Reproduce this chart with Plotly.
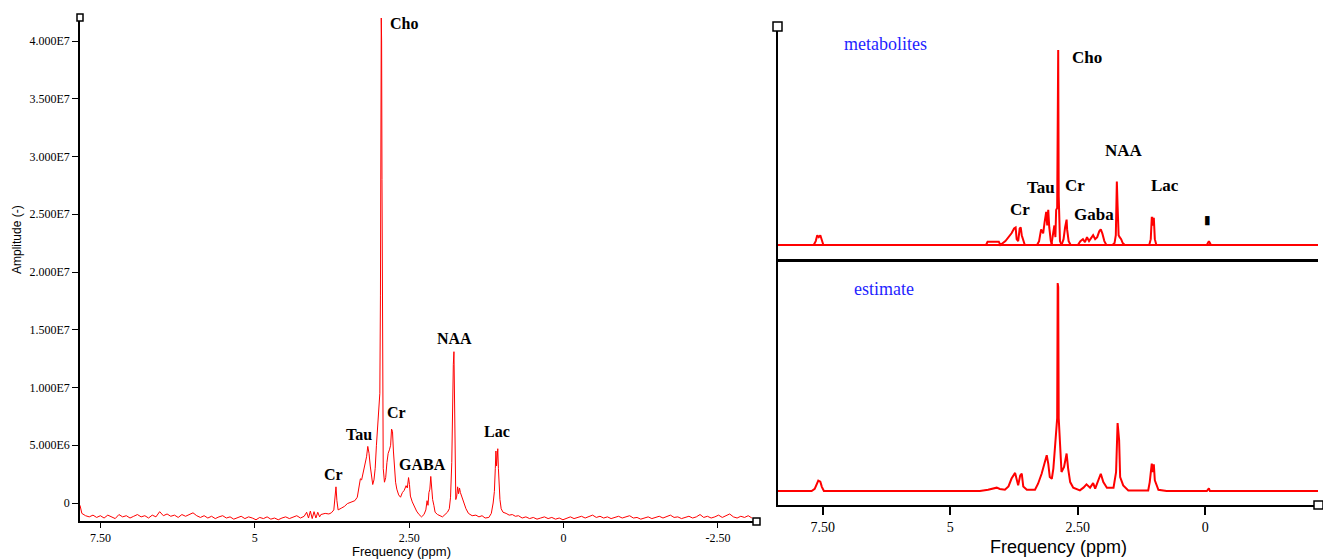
import plotly.graph_objects as go

W, H = 1323, 559

# ---------------- LEFT PANEL DATA (ppm, amplitude in units of 1e6) ----------------
left_ppm = [7.83, 7.80, 7.74, 7.68, 7.62, 7.56, 7.50, 7.44, 7.38, 7.32, 7.26, 7.20, 7.14, 7.08, 7.02,
            6.96, 6.90, 6.84, 6.78, 6.72, 6.66, 6.60, 6.54, 6.48, 6.42, 6.36, 6.30, 6.24, 6.18, 6.12,
            6.06, 6.00, 5.94, 5.88, 5.82, 5.76, 5.70, 5.64, 5.58, 5.52, 5.46, 5.40, 5.34, 5.28, 5.22,
            5.16, 5.10, 5.04, 4.98, 4.92, 4.86, 4.80, 4.74, 4.68, 4.62, 4.56, 4.50, 4.44, 4.38, 4.32,
            4.26, 4.20, 4.16, 4.13, 4.10, 4.07, 4.04, 4.01, 3.98, 3.95,
            3.93, 3.86, 3.80, 3.76, 3.72, 3.70, 3.685, 3.67, 3.65, 3.60, 3.55, 3.50, 3.44, 3.38, 3.34,
            3.31, 3.29, 3.27, 3.25, 3.22, 3.19, 3.17, 3.15, 3.13, 3.11, 3.09, 3.07, 3.05, 3.03, 3.01,
            2.99, 2.975, 2.965, 2.958, 2.952, 2.946, 2.94, 2.932, 2.92, 2.90, 2.88, 2.86, 2.84, 2.82,
            2.80, 2.785, 2.77, 2.755, 2.74, 2.72, 2.70, 2.67, 2.64, 2.61, 2.58, 2.55, 2.53, 2.51, 2.495,
            2.48, 2.45, 2.42, 2.38, 2.34, 2.30, 2.26, 2.23, 2.21, 2.195, 2.18, 2.165, 2.15, 2.14, 2.13,
            2.12, 2.10, 2.08, 2.04, 2.00, 1.96, 1.92, 1.88, 1.85, 1.83, 1.81, 1.795, 1.785, 1.775, 1.765,
            1.755, 1.745, 1.73, 1.715, 1.70, 1.685, 1.67, 1.65, 1.62, 1.58, 1.54, 1.48, 1.42, 1.37, 1.32,
            1.27, 1.21, 1.17, 1.14, 1.12, 1.105, 1.095, 1.085, 1.075, 1.065, 1.055, 1.045, 1.03, 1.01,
            0.98, 0.93, 0.88, 0.83, 0.78, 0.73, 0.67,
            0.61, 0.55, 0.49, 0.43, 0.37, 0.31, 0.25, 0.19, 0.13, 0.07, 0.01, -0.05, -0.11, -0.17, -0.23,
            -0.29, -0.35, -0.41, -0.47, -0.53, -0.59, -0.65, -0.71, -0.77, -0.83, -0.89, -0.95, -1.01,
            -1.07, -1.13, -1.19, -1.25, -1.31, -1.37, -1.43, -1.49, -1.55, -1.61, -1.67, -1.73, -1.79,
            -1.85, -1.91, -1.97, -2.03, -2.09, -2.15, -2.21, -2.27, -2.33, -2.39, -2.45, -2.51, -2.57,
            -2.63, -2.69, -2.75, -2.81, -2.87, -2.93, -2.99, -3.05]
left_amp_e6 = [-0.2, -0.9, -1.1, -1.2, -1.05, -1.25, -1.1, -1.3, -1.05, -1.2, -1.35, -1.0, -1.2, -1.1, -1.3,
               -1.15, -1.0, -1.2, -1.1, -1.3, -1.05, -1.2, -0.75, -1.1, -0.95, -1.15, -1.05, -1.25, -1.0, -1.15,
               -1.0, -0.85, -1.1, -1.25, -1.1, -1.3, -1.15, -1.35, -1.2, -1.1, -1.3, -1.2, -1.4, -1.25, -1.15,
               -1.35, -1.2, -1.3, -1.45, -1.25, -1.35, -1.2, -1.4, -1.3, -1.45, -1.3, -1.2, -1.35, -1.25, -1.1,
               -1.3, -1.15, -0.8, -1.3, -0.7, -1.35, -0.75, -1.3, -0.8, -1.2,
               -1.0, -0.9, -0.95, -0.85, -0.6, 0.4, 1.4, 0.2, -0.6, -0.45, -0.3, -0.05, 0.1, 0.2, 0.5,
               1.6, 2.1, 2.0, 2.5, 3.0, 4.0, 4.9, 4.3, 3.2, 2.2, 1.6, 2.0, 3.0, 5.0, 6.5,
               7.5, 9.5, 18.0, 33.0, 42.0, 40.0, 28.0, 12.0, 3.0, 1.8, 2.2, 3.5, 4.3, 4.6,
               5.0, 6.4, 6.2, 4.5, 2.8, 1.8, 1.2, 0.7, 0.5, 0.9, 1.1, 1.5, 1.3, 2.2, 1.6,
               0.6, 0.1, -0.3, -0.7, -1.0, -1.2, -1.0, -0.6, 0.2, -0.2, 0.9, 1.2, 2.3, 1.4, 1.6,
               0.3, -0.2, -0.8, -1.0, -1.1, -1.2, -1.0, -0.8, -0.5, 0.5, 3.5, 10.5, 12.0, 13.1, 8.0,
               1.5, 0.3, 0.6, 1.4, 0.8, 1.3, 0.9, 0.6, 0.2, -0.5, -0.9, -1.1, -1.05, -1.2, -1.1,
               -1.3, -1.25, -0.9, 0.0, 1.0, 3.0, 4.5, 3.2, 3.9, 4.7, 3.0, 1.7, 0.3, -0.5,
               -0.8, -0.9, -1.05, -1.0, -1.15, -1.1, -1.3,
               -1.2, -1.35, -1.25, -1.4, -1.3, -1.2, -1.35, -1.25, -1.4, -1.3, -1.45, -1.3, -1.2, -1.35, -1.25,
               -1.15, -1.3, -1.2, -1.05, -1.25, -1.15, -1.3, -1.2, -1.35, -1.25, -1.15, -1.3, -1.2,
               -1.1, -1.3, -1.25, -1.4, -1.3, -1.2, -1.35, -1.25, -1.15, -1.3, -1.2, -1.05, -1.25,
               -1.2, -1.35, -1.25, -1.15, -1.3, -1.2, -1.0, -1.25, -1.15, -1.3, -1.2, -1.05, -1.25,
               -1.1, -0.95, -1.2, -1.3, -1.15, -1.25, -1.1, -1.3]
left_amp = [v * 1e6 for v in left_amp_e6]

left_ytick_vals = [0, 5e6, 1e7, 1.5e7, 2e7, 2.5e7, 3e7, 3.5e7, 4e7]
left_ytick_text = ["0", "5.000E6", "1.000E7", "1.500E7", "2.000E7", "2.500E7", "3.000E7", "3.500E7", "4.000E7"]
left_xtick_vals = [7.5, 5, 2.5, 0, -2.5]
left_xtick_text = ["7.50", "5", "2.50", "0", "-2.50"]

left_labels = ["Cho", "NAA", "Cr", "Tau", "GABA", "Lac", "Cr"]

# ---------------- RIGHT PANEL DATA (relative amplitude) ----------------
# metabolites (individual fitted components)
met_baseline_ppm = [8.38, -2.21]
met_baseline_val = [0, 0]
met_arom_ppm = [7.68, 7.64, 7.61, 7.58, 7.55, 7.52, 7.49]
met_arom_val = [0, 0.02, 0.05, 0.04, 0.05, 0.02, 0]
met_cr_ppm = [4.30, 4.27, 4.05, 4.02, 3.92, 3.86, 3.80, 3.75, 3.72, 3.70, 3.67, 3.64, 3.62, 3.60, 3.57, 3.54]
met_cr_val = [0, 0.017, 0.017, 0, 0.02, 0.04, 0.06, 0.085, 0.09, 0.03, 0.02, 0.085, 0.09, 0.05, 0.02, 0]
met_tau_ppm = [3.30, 3.26, 3.22, 3.18, 3.15, 3.12, 3.10, 3.08, 3.06, 3.03, 3.00]
met_tau_val = [0, 0.02, 0.08, 0.06, 0.12, 0.17, 0.10, 0.18, 0.09, 0.02, 0]
met_cho_ppm = [3.02, 2.99, 2.96, 2.94, 2.925, 2.905, 2.895, 2.885, 2.875, 2.865, 2.85, 2.82]
met_cho_val = [0, 0.05, 0.10, 0.04, 0.18, 0.19, 1.0, 1.0, 0.25, 0.05, 0.02, 0]
met_cr2_ppm = [2.82, 2.78, 2.75, 2.73, 2.72, 2.71, 2.68, 2.64]
met_cr2_val = [0, 0.03, 0.09, 0.13, 0.13, 0.08, 0.02, 0]
met_gaba_ppm = [2.50, 2.45, 2.40, 2.36, 2.32, 2.28, 2.24, 2.20, 2.16, 2.12, 2.08, 2.05, 2.02, 1.98, 1.94]
met_gaba_val = [0, 0.02, 0.03, 0.015, 0.04, 0.02, 0.035, 0.05, 0.03, 0.04, 0.07, 0.08, 0.06, 0.02, 0]
met_naa_ppm = [1.82, 1.78, 1.755, 1.745, 1.735, 1.72, 1.70, 1.68, 1.65, 1.62, 1.58]
met_naa_val = [0, 0.01, 0.05, 0.325, 0.325, 0.2, 0.05, 0.04, 0.03, 0.01, 0]
met_lac_ppm = [1.10, 1.07, 1.05, 1.04, 1.03, 1.02, 1.01, 0.99, 0.96]
met_lac_val = [0, 0.03, 0.14, 0.14, 0.10, 0.14, 0.14, 0.03, 0]
met_ref_ppm = [-0.03, -0.05, -0.07, -0.09, -0.11]
met_ref_val = [0, 0.01, 0.02, 0.01, 0]

met_components = [
    (met_baseline_ppm, met_baseline_val), (met_arom_ppm, met_arom_val), (met_cr_ppm, met_cr_val),
    (met_tau_ppm, met_tau_val), (met_cho_ppm, met_cho_val), (met_cr2_ppm, met_cr2_val),
    (met_gaba_ppm, met_gaba_val), (met_naa_ppm, met_naa_val), (met_lac_ppm, met_lac_val),
    (met_ref_ppm, met_ref_val),
]
met_labels = ["Cho", "NAA", "Tau", "Cr", "Cr", "Gaba", "Lac", "\u25AE"]

# estimate (sum)
est_ppm = [8.38, 7.72, 7.66, 7.62, 7.59, 7.55, 7.52, 7.48, 4.42, 4.26, 4.09, 4.03, 3.93, 3.86, 3.80,
           3.73, 3.70, 3.67, 3.63, 3.60, 3.57, 3.50, 3.34, 3.28, 3.21, 3.14, 3.11, 3.08, 3.05, 3.01,
           2.98, 2.95, 2.92, 2.905, 2.895, 2.885, 2.875, 2.84, 2.82, 2.77, 2.72, 2.69, 2.65, 2.59,
           2.46, 2.39, 2.33, 2.26, 2.20, 2.16, 2.13, 2.10, 2.05, 2.00, 1.93, 1.80, 1.75, 1.72, 1.69,
           1.67, 1.61, 1.51, 1.12, 1.09, 1.05, 1.03, 1.01, 0.99, 0.92, 0.76, -0.03, -0.07, -0.09, -2.21]
est_val = [0, 0, 0.01, 0.035, 0.05, 0.045, 0.02, 0, 0, 0.006, 0.016, 0.01, 0.006, 0.022, 0.06,
           0.087, 0.05, 0.027, 0.075, 0.083, 0.022, 0.006, 0.006, 0.035, 0.083, 0.148, 0.172, 0.132, 0.067, 0.059,
           0.108, 0.204, 0.284, 0.35, 1.0, 0.98, 0.35, 0.148, 0.091, 0.116, 0.18, 0.108, 0.043, 0.016,
           0.003, 0.016, 0.032, 0.016, 0.038, 0.011, 0.032, 0.051, 0.083, 0.043, 0.016, 0.016, 0.091, 0.327, 0.244,
           0.067, 0.027, 0.003, 0.003, 0.043, 0.132, 0.091, 0.128, 0.051, 0.006, 0, 0, 0.013, 0, 0]

right_xtick_vals = [7.5, 5, 2.5, 0]
right_xtick_text = ["7.50", "5", "2.50", "0"]

# ---------------- layout helpers ----------------
def fx(px):
    return px / W


def fy(py):
    return 1 - py / H


RED = "#ff0000"
SERIF = "Liberation Serif, Times New Roman, serif"
SANS = "Liberation Sans, Arial, sans-serif"

fig = go.Figure()

fig.add_trace(go.Scatter(x=left_ppm, y=left_amp, mode="lines", line=dict(color=RED, width=1),
                         xaxis="x", yaxis="y", hoverinfo="skip"))
for p, v in met_components:
    fig.add_trace(go.Scatter(x=p, y=v, mode="lines", line=dict(color=RED, width=2),
                             xaxis="x2", yaxis="y2", hoverinfo="skip"))
fig.add_trace(go.Scatter(x=est_ppm, y=est_val, mode="lines", line=dict(color=RED, width=2),
                         xaxis="x3", yaxis="y3", hoverinfo="skip"))

# axis ranges derived from pixel calibration
left_per_px = 4e7 / (503 - 41)
left_yrange = [-(521 - 503) * left_per_px, (503 - 18) * left_per_px]
top_yrange = [-(259 - 245) / 195, (245 - 28) / 195]
bot_yrange = [-(505 - 491) / 208, (491 - 261) / 208]

axis_common = dict(showgrid=False, zeroline=False, showline=True, linecolor="black", mirror=False)

fig.update_layout(
    width=W, height=H, margin=dict(l=0, r=0, t=0, b=0),
    paper_bgcolor="white", plot_bgcolor="rgba(0,0,0,0)", showlegend=False,
    xaxis=dict(domain=[fx(80), fx(755)], range=[7.83, -3.1], anchor="y",
               tickmode="array", tickvals=left_xtick_vals, ticktext=left_xtick_text,
               ticks="outside", ticklen=5, tickcolor="black", linewidth=1.5,
               tickfont=dict(family=SERIF, size=12, color="black"), **axis_common),
    yaxis=dict(domain=[fy(521), fy(18)], range=left_yrange, anchor="x",
               tickmode="array", tickvals=left_ytick_vals, ticktext=left_ytick_text,
               ticks="outside", ticklen=6, tickcolor="black", linewidth=1.5,
               tickfont=dict(family=SERIF, size=12, color="black"), **axis_common),
    xaxis2=dict(domain=[fx(778), fx(1318)], range=[8.38, -2.21], anchor="y2",
                showticklabels=False, ticks="", linewidth=3, **axis_common),
    yaxis2=dict(domain=[fy(259), fy(28)], range=top_yrange, anchor="x2",
                showticklabels=False, ticks="", linewidth=2, **axis_common),
    xaxis3=dict(domain=[fx(778), fx(1318)], range=[8.38, -2.21], anchor="y3",
                tickmode="array", tickvals=right_xtick_vals, ticktext=right_xtick_text,
                ticks="outside", ticklen=8, tickcolor="black", tickwidth=1.5, linewidth=2,
                tickfont=dict(family=SERIF, size=14, color="black"), **axis_common),
    yaxis3=dict(domain=[fy(505), fy(261)], range=bot_yrange, anchor="x3",
                showticklabels=False, ticks="", linewidth=2, **axis_common),
)

annotations = []


def add_text(text, px, py, size, color="black", family=SERIF, bold=False, angle=0):
    annotations.append(dict(
        text=f"<b>{text}</b>" if bold else text, x=fx(px), y=fy(py), xref="paper", yref="paper",
        xanchor="center", yanchor="middle", showarrow=False, textangle=angle,
        font=dict(family=family, size=size, color=color)))


left_label_pos = [(404, 24), (454, 338), (396, 412), (359, 434), (422, 464), (497, 431), (334, 474)]
for t, (px, py) in zip(left_labels, left_label_pos):
    add_text(t, px, py, 16, bold=True)

met_label_pos = [(1087, 57), (1124, 150), (1041, 187), (1075, 185), (1020, 209), (1094, 214),
                 (1165, 185), (1207, 220)]
for t, (px, py) in zip(met_labels, met_label_pos):
    size = 12 if t == "\u25AE" else 17
    fam = "DejaVu Sans" if t == "\u25AE" else SERIF
    add_text(t, px, py, size, family=fam, bold=True)

add_text("metabolites", 885, 44, 18, color="#1f1fff")
add_text("estimate", 884, 289, 18, color="#1f1fff")
add_text("Amplitude (-)", 17, 240, 12, family=SANS, angle=-90)
add_text("Frequency (ppm)", 401, 551, 13, family=SANS)
add_text("Frequency (ppm)", 1058, 547, 18, family=SANS)

fig.update_layout(annotations=annotations)

# small open squares at axis ends
squares = [(77, 14, 83, 21), (753, 518, 760, 525), (773, 22, 782, 31), (1314, 501, 1323, 509)]
for x0, y0, x1, y1 in squares:
    fig.add_shape(type="rect", xref="paper", yref="paper", x0=fx(x0), x1=fx(x1), y0=fy(y1), y1=fy(y0),
                  line=dict(color="black", width=1.5), fillcolor="white")

fig.write_html("out.html", config={"displayModeBar": False},
               post_script="document.body.style.margin='0';document.body.style.overflow='hidden';")
